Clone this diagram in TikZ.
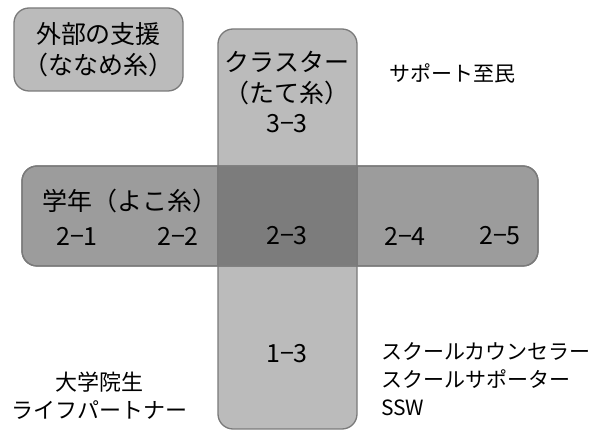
\documentclass[tikz,border=0pt]{standalone}
\usepackage{fontspec}
\newfontfamily\jp{Noto Sans CJK JP}
\definecolor{lightbox}{HTML}{BBBBBB}
\definecolor{midbox}{HTML}{9C9C9C}
\definecolor{darkbox}{HTML}{7C7C7C}
\definecolor{edge}{HTML}{7A7A7A}
\tikzset{
  box/.style={draw=edge, line width=1.3pt, rounded corners=15pt, inner sep=0pt},
  big/.style={font=\jp\fontsize{25}{31}\selectfont, inner sep=0pt, align=center},
  mid/.style={font=\jp\fontsize{21}{28}\selectfont, inner sep=0pt, align=left},
}
\begin{document}
\begin{tikzpicture}[x=1pt,y=-1pt]
\useasboundingbox (0,0) rectangle (598,430);
% boxes
\node[box, fill=lightbox, minimum width=169pt, minimum height=83pt] (ext) at (98.5,49.5) {};
\node[box, fill=lightbox, minimum width=139pt, minimum height=400pt] (vbox) at (287.5,229) {};
\node[box, fill=midbox, minimum width=516pt, minimum height=100pt] (hbox) at (280,216) {};
\fill[darkbox] (218,166.6) rectangle (357,265.4);
\draw[edge, line width=1.3pt] (218,166) -- (218,266) (357,166) -- (357,266);
\node[box, minimum width=516pt, minimum height=100pt] (hedge) at (hbox.center) {};
% texts
\node[big] (extt) at (ext.center) {外部の支援\\（ななめ糸）};
\node[big] (cl1) at (287,62) {クラスター};
\node[big] (cl2) at (287,93) {（たて糸）};
\node[big] (c33) at (287,124) {3−3};
\node[big, anchor=west] (gak) at (42,201) {学年（よこ糸）};
\node[big] (c21) at (77,236) {2−1};
\node[big] (c22) at (178,236) {2−2};
\node[big] (c23) at (287,236) {2−3};
\node[big] (c24) at (405,236) {2−4};
\node[big] (c25) at (500,236) {2−5};
\node[big] (c13) at (287,354) {1−3};
\node[mid, anchor=west] (sup) at (389,73) {サポート至民};
\node[mid, align=center, font=\jp\fontsize{22}{28}\selectfont] (dai) at (100,396) {大学院生\\ライフパートナー};
\node[mid, anchor=north west] (sc) at (381,342) {スクールカウンセラー\\スクールサポーター\\SSW};
\end{tikzpicture}
\end{document}
